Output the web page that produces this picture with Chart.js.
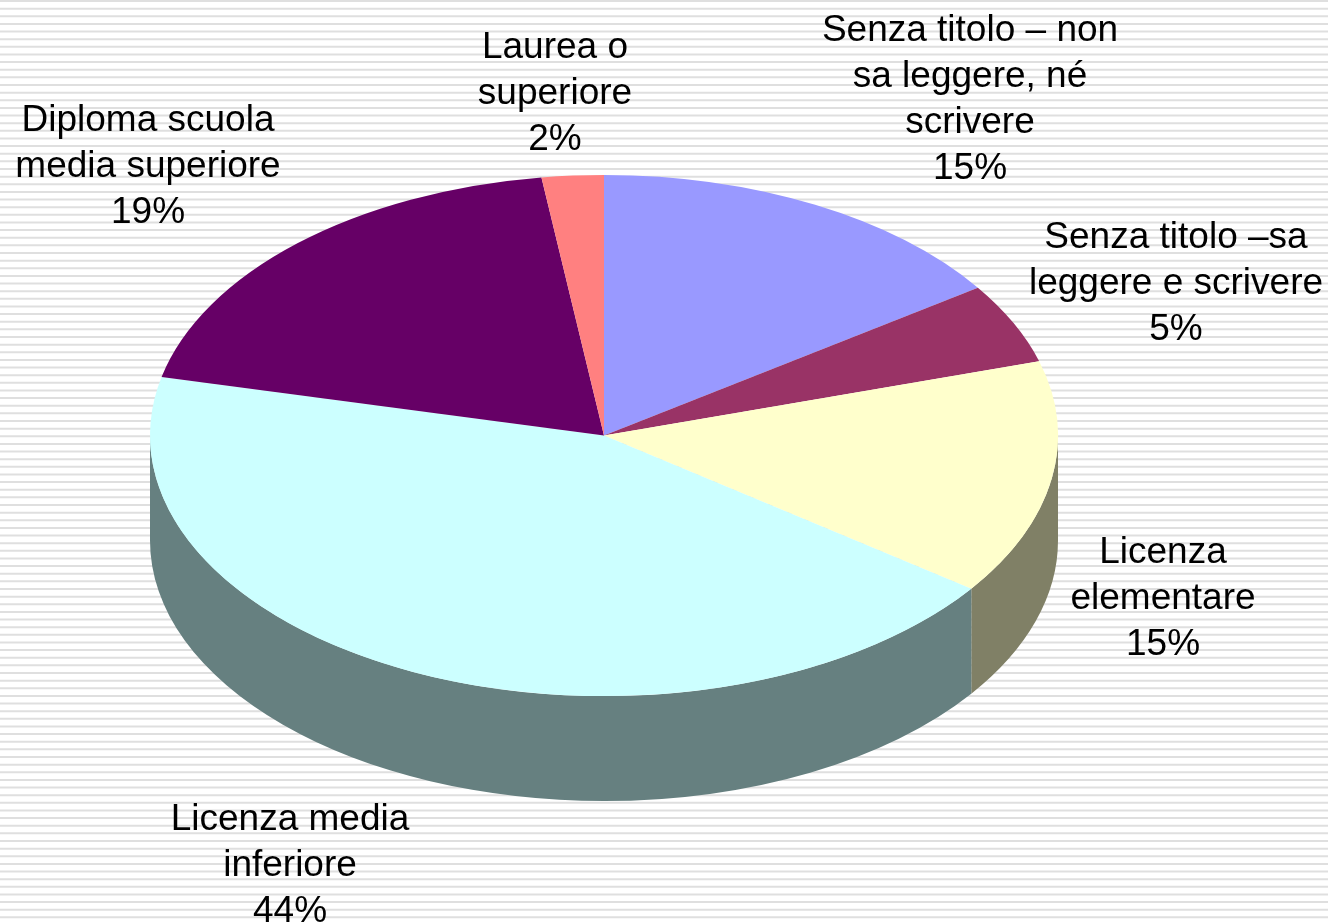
<!DOCTYPE html>
<html><head><meta charset="utf-8">
<script src="https://cdn.jsdelivr.net/npm/chart.js@4.4.1/dist/chart.umd.min.js"></script>
<style>html,body{margin:0;padding:0;background:#fff;overflow:hidden}</style>
</head><body>
<canvas id="c" width="1328" height="924"></canvas>
<script>
// ---- data ----
const categories = [
  "Senza titolo – non sa leggere, né scrivere",
  "Senza titolo –sa leggere e scrivere",
  "Licenza elementare",
  "Licenza media inferiore",
  "Diploma scuola media superiore",
  "Laurea o superiore"
];
const values = [15.4, 5.0, 14.6, 43.6, 19.2, 2.2];
const percentLabels = ["15%", "5%", "15%", "44%", "19%", "2%"];
const labelLines = [
  ["Senza titolo – non", "sa leggere, né", "scrivere"],
  ["Senza titolo –sa", "leggere e scrivere"],
  ["Licenza", "elementare"],
  ["Licenza media", "inferiore"],
  ["Diploma scuola", "media superiore"],
  ["Laurea o", "superiore"]
];

// ---- styles / layout ----
const topColors  = ["#9999FF", "#993366", "#FFFFCC", "#CCFFFF", "#660066", "#FF8080"];
const sideColors = ["#4D4D80", "#4D1A33", "#808066", "#668080", "#330033", "#804040"];
const labelAnchors = [[970, 40.7], [1176, 248.3], [1163, 563], [290, 830], [148, 131], [555, 58]];
const LINE_H = 46;
const TILT = 0.574, CENTER_Y = 435.5, DEPTH = 105, RADIUS = 454;

const pie3d = {
  id: 'pie3d',
  beforeDraw(chart) {
    const ctx = chart.ctx;
    ctx.save();
    ctx.fillStyle = '#fff';
    ctx.fillRect(0, 0, chart.width, chart.height);
    ctx.strokeStyle = '#dfdfdf';
    ctx.lineWidth = 2;
    const step = chart.height / 121;
    for (let y = 1; y < chart.height + step; y += step) {
      ctx.beginPath(); ctx.moveTo(0, y); ctx.lineTo(chart.width, y); ctx.stroke();
    }
    ctx.restore();
  },
  beforeDatasetsDraw(chart) {
    const ctx = chart.ctx;
    const arcs = chart.getDatasetMeta(0).data;
    arcs.forEach((arc, i) => {
      const p = arc.getProps(['x', 'y', 'startAngle', 'endAngle', 'outerRadius'], true);
      const a1 = Math.max(p.startAngle, 0), a2 = Math.min(p.endAngle, Math.PI);
      if (a2 <= a1) return;
      const r = p.outerRadius;
      ctx.beginPath();
      ctx.ellipse(p.x, CENTER_Y, r, r * TILT, 0, a1, a2, false);
      ctx.ellipse(p.x, CENTER_Y + DEPTH, r, r * TILT, 0, a2, a1, true);
      ctx.closePath();
      ctx.fillStyle = sideColors[i];
      ctx.fill();
    });
    ctx.save();
    ctx.translate(0, CENTER_Y);
    ctx.scale(1, TILT);
    ctx.translate(0, -arcs[0].y);
  },
  afterDatasetsDraw(chart) {
    chart.ctx.restore();
  },
  afterDraw(chart) {
    const ctx = chart.ctx;
    ctx.save();
    ctx.fillStyle = '#000';
    ctx.font = "37px 'Liberation Sans', Arial, sans-serif";
    ctx.textAlign = 'center';
    ctx.textBaseline = 'alphabetic';
    labelLines.forEach((lines, i) => {
      const [x, y0] = labelAnchors[i];
      const all = lines.concat([percentLabels[i]]);
      all.forEach((t, j) => ctx.fillText(t, x, y0 + j * LINE_H));
    });
    ctx.restore();
  }
};

new Chart(document.getElementById('c'), {
  type: 'pie',
  data: {
    labels: categories,
    datasets: [{
      data: values,
      backgroundColor: topColors,
      borderWidth: 0,
      hoverOffset: 0,
      radius: RADIUS
    }]
  },
  options: {
    responsive: false,
    animation: false,
    layout: { padding: { left: 0, right: 120, top: 0, bottom: 0 } },
    plugins: { legend: { display: false }, tooltip: { enabled: false } },
    events: []
  },
  plugins: [pie3d]
});
</script>
</body></html>
